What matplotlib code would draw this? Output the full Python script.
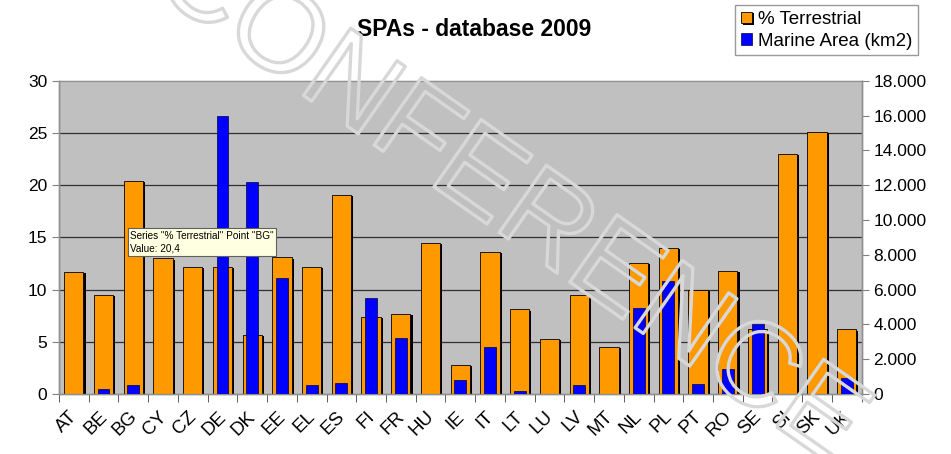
import numpy as np
import matplotlib.pyplot as plt
import matplotlib.patheffects as pe
import matplotlib.transforms as mtransforms
from matplotlib.ticker import FuncFormatter, MultipleLocator

plt.rcParams['font.family'] = ['Liberation Sans', 'DejaVu Sans']

countries = ["AT", "BE", "BG", "CY", "CZ", "DE", "DK", "EE", "EL", "ES", "FI", "FR", "HU", "IE",
             "IT", "LT", "LU", "LV", "MT", "NL", "PL", "PT", "RO", "SE", "SI", "SK", "UK"]
terrestrial = [11.7, 9.5, 20.4, 13.0, 12.2, 12.2, 5.7, 13.1, 12.2, 19.1, 7.4, 7.7, 14.5, 2.8,
               13.6, 8.1, 5.3, 9.5, 4.5, 12.6, 14.0, 10.0, 11.8, 6.2, 23.0, 25.1, 6.2]
marine_km2 = [0, 300, 550, 0, 0, 16000, 12200, 6650, 550, 650, 5500, 3250, 0, 820,
              2700, 180, 0, 540, 0, 4950, 6500, 600, 1450, 4000, 0, 0, 900]

x = np.arange(len(countries))

fig = plt.figure(figsize=(9.51, 4.54), dpi=100)
ax1 = fig.add_axes([0.062, 0.132, 0.844, 0.69])
ax2 = ax1.twinx()
ax1.set_facecolor("#C0C0C0")

shadow = [pe.SimplePatchShadow(offset=(1.5, -1.0), shadow_rgbFace="black", alpha=1.0), pe.Normal()]
ax1.bar(x, terrestrial, width=0.65, color="#FF9900", edgecolor="black", linewidth=0.6,
        path_effects=shadow, zorder=3, label="% Terrestrial")
ax2.bar(x, marine_km2, width=0.40, color="#0000FF", edgecolor="#000040", linewidth=0.5,
        zorder=3, label="Marine Area (km2)")

ax1.set_xlim(-0.5, len(countries) - 0.5)
ax1.set_ylim(0, 30)
ax2.set_ylim(0, 18000)
ax1.yaxis.set_major_locator(MultipleLocator(5))
ax2.yaxis.set_major_locator(MultipleLocator(2000))
ax2.yaxis.set_major_formatter(FuncFormatter(lambda v, p: "{:,.0f}".format(v).replace(",", ".")))

for v in range(5, 30, 5):
    ax1.axhline(v, color="#303030", linewidth=0.9, zorder=1)

ax1.set_xticks(x)
ax1.set_xticklabels(countries, rotation=45, ha="right", rotation_mode="anchor", fontsize=13.5)
ax1.tick_params(axis="x", length=0, pad=10)
shift = mtransforms.ScaledTranslation(-5 / 100, 0, fig.dpi_scale_trans)
for lab in ax1.get_xticklabels():
    lab.set_transform(lab.get_transform() + shift)
ax1.set_xticks(np.arange(-0.5, len(countries), 1), minor=True)
ax1.tick_params(axis="x", which="minor", length=6, color="#404040")
ax1.tick_params(axis="y", labelsize=12.5, length=5, color="#808080")
ax2.tick_params(axis="y", labelsize=12.5, length=5, color="#808080")

for a in (ax1, ax2):
    for s in a.spines.values():
        s.set_color("#909090")
        s.set_linewidth(1.0)
ax1.spines["top"].set_color("#D8D8D8")

ax2.set_zorder(ax1.get_zorder() + 1)
ax2.patch.set_visible(False)

fig.text(0.499, 0.936, "SPAs - database 2009", ha="center", va="center", fontsize=16.5, fontweight="bold")

h1, l1 = ax1.get_legend_handles_labels()
h2, l2 = ax2.get_legend_handles_labels()
leg = fig.legend(h1 + h2, l1 + l2, loc="upper right", bbox_to_anchor=(0.965, 0.988), fontsize=13.5,
                 frameon=True, fancybox=False, edgecolor="#808080", handlelength=0.6, handleheight=0.6,
                 handletextpad=0.3, borderpad=0.3, labelspacing=0.25, borderaxespad=0)
leg.get_frame().set_linewidth(1.0)

# tooltip left on the screenshot
fig.text(0.137, 0.467, 'Series "% Terrestrial" Point "BG"\nValue: 20,4', fontsize=7.2, ha="left", va="center",
         linespacing=1.3, zorder=10,
         bbox=dict(boxstyle="square,pad=0.25", facecolor="#FFFFE1", edgecolor="#606060", linewidth=0.8))

# watermark, outline only
wm = fig.text(0.535, 0.555, "CONFERENCE", fontsize=86, rotation=-35, ha="center", va="center",
              zorder=20, color="none")
wm.set_path_effects([pe.Stroke(linewidth=2.4, foreground="#D8D8D8")])

fig.savefig("out.png", dpi=100)
